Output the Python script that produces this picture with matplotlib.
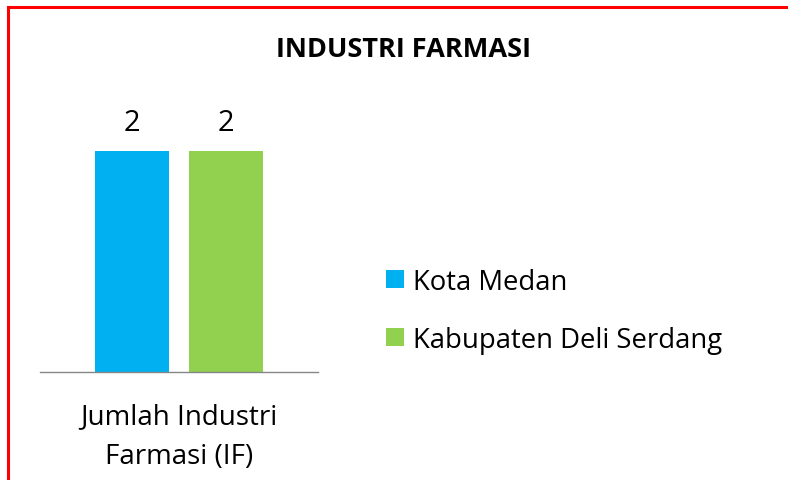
import matplotlib
matplotlib.use("Agg")
import matplotlib.pyplot as plt
from matplotlib.patches import Rectangle

title = "INDUSTRI FARMASI"
categories = ["Jumlah Industri\nFarmasi (IF)"]
series_names = ["Kota Medan", "Kabupaten Deli Serdang"]
series_values = [[2], [2]]
colors = ["#00B0F0", "#92D050"]

plt.rcParams['font.family'] = ['Open Sans', 'DejaVu Sans']

W, H = 788, 481
fig = plt.figure(figsize=(W / 100, H / 100), dpi=100)

def px(x0, y0, x1, y1):
    return [x0 / W, 1 - y1 / H, (x1 - x0) / W, (y1 - y0) / H]

ax = fig.add_axes(px(40, 152, 318, 373))
offsets = [-0.168, 0.168]
width = 0.266
for i, (name, vals) in enumerate(zip(series_names, series_values)):
    xs = [c + offsets[i] for c in range(len(categories))]
    bars = ax.bar(xs, vals, width=width, color=colors[i], label=name)
    for b, v in zip(bars, vals):
        ax.annotate(f"{v}", xy=(b.get_x() + b.get_width() / 2, v), xytext=(0, 10),
                    textcoords='offset points', ha='center', va='bottom',
                    fontsize=21, color='#000000', annotation_clip=False)
ax.set_xlim(-0.5, len(categories) - 0.5)
ax.set_ylim(0, 2)
for s in ['top', 'left', 'right']:
    ax.spines[s].set_visible(False)
ax.spines['bottom'].set_color('#868686')
ax.spines['bottom'].set_linewidth(1)
ax.set_yticks([])
ax.set_xticks(range(len(categories)))
ax.set_xticklabels(categories, fontsize=20, linespacing=1.55)
ax.tick_params(axis='x', length=0, pad=22)

fig.text(404 / W, 1 - 50 / H, title, ha='center', va='center', fontsize=19.5,
         fontweight='bold', color='#000000')

leg = fig.legend(loc='upper left', bbox_to_anchor=(375 / W, 1 - 258 / H), frameon=False,
                 fontsize=19.8, handlelength=0.67, handleheight=0.62, handletextpad=0.3,
                 labelspacing=1.08, borderaxespad=0)

fig.patches.append(Rectangle((8 / W, -0.1), 1.2, 1 - 8 / H + 0.1, transform=fig.transFigure,
                             fill=False, edgecolor='#FF0000', linewidth=2.2))

fig.savefig("out.png", dpi=100)
